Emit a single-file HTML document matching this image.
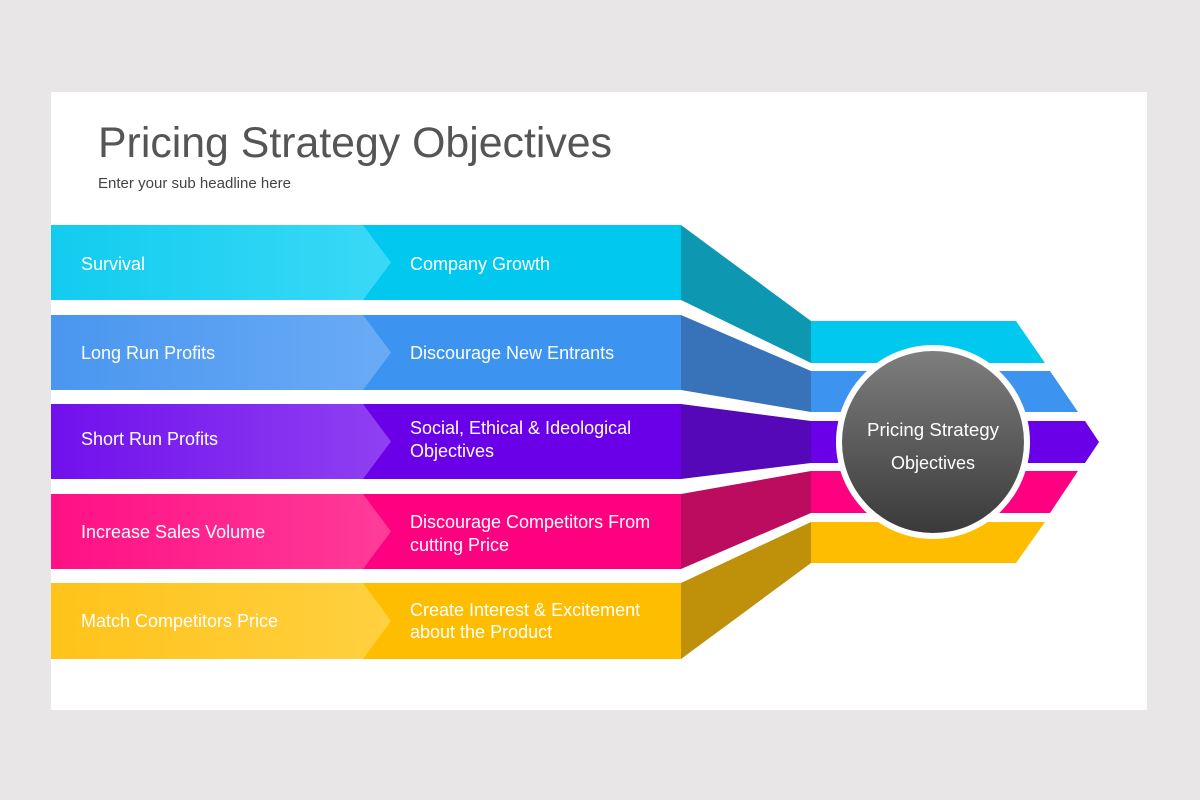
<!DOCTYPE html>
<html><head><meta charset="utf-8"><style>
html,body{margin:0;padding:0;background:#e8e6e7;}
svg{display:block;}
text{font-family:"Liberation Sans",sans-serif;}
</style></head><body>
<svg width="1200" height="800" viewBox="0 0 1200 800" xmlns="http://www.w3.org/2000/svg">
<defs>
<linearGradient id="g1" x1="0" x2="1"><stop offset="0" stop-color="#12ccef"/><stop offset="1" stop-color="#3ad9f6"/></linearGradient>
<linearGradient id="g2" x1="0" x2="1"><stop offset="0" stop-color="#4a96ef"/><stop offset="1" stop-color="#6aabf6"/></linearGradient>
<linearGradient id="g3" x1="0" x2="1"><stop offset="0" stop-color="#7010ec"/><stop offset="1" stop-color="#9040f2"/></linearGradient>
<linearGradient id="g4" x1="0" x2="1"><stop offset="0" stop-color="#ff1085"/><stop offset="1" stop-color="#ff3c98"/></linearGradient>
<linearGradient id="g5" x1="0" x2="1"><stop offset="0" stop-color="#ffc31a"/><stop offset="1" stop-color="#ffd040"/></linearGradient>
<linearGradient id="gc" x1="0" y1="0" x2="0" y2="1"><stop offset="0" stop-color="#7e7e7e"/><stop offset="1" stop-color="#3a3a3a"/></linearGradient>
</defs>
<rect x="51" y="92" width="1096" height="618" fill="#ffffff"/>
<text x="98" y="157" font-size="43" fill="#555" textLength="514" lengthAdjust="spacingAndGlyphs">Pricing Strategy Objectives</text>
<text x="98" y="188" font-size="15" fill="#444" textLength="193" lengthAdjust="spacingAndGlyphs">Enter your sub headline here</text>

<rect x="51" y="225" width="630" height="75" fill="#00c8ee"/>
<polygon points="51,225 363,225 391,262.5 363,300 51,300" fill="url(#g1)"/>
<polygon points="681,225 811,321 811,363 681,300" fill="#0e97b0"/>
<rect x="51" y="315" width="630" height="75" fill="#3d94f0"/>
<polygon points="51,315 363,315 391,352.5 363,390 51,390" fill="url(#g2)"/>
<polygon points="681,315 811,371 811,412 681,390" fill="#3872b8"/>
<rect x="51" y="404" width="630" height="75" fill="#6a00e8"/>
<polygon points="51,404 363,404 391,441.5 363,479 51,479" fill="url(#g3)"/>
<polygon points="681,404 811,421 811,463 681,479" fill="#5508b8"/>
<rect x="51" y="494" width="630" height="75" fill="#ff0080"/>
<polygon points="51,494 363,494 391,531.5 363,569 51,569" fill="url(#g4)"/>
<polygon points="681,494 811,471 811,513 681,569" fill="#bb0c60"/>
<rect x="51" y="583" width="630" height="76" fill="#ffbd00"/>
<polygon points="51,583 363,583 391,621 363,659 51,659" fill="url(#g5)"/>
<polygon points="681,583 811,522 811,563 681,659" fill="#bf900a"/>

<polygon points="811,321 1016,321 1045,363 811,363" fill="#00c8ee"/>
<polygon points="811,371 1050,371 1078,412 811,412" fill="#3d94f0"/>
<polygon points="811,421 1085,421 1099,442 1085,463 811,463" fill="#6a00e8"/>
<polygon points="811,471 1078,471 1050,513 811,513" fill="#ff0080"/>
<polygon points="811,522 1045,522 1016,563 811,563" fill="#ffbd00"/>

<circle cx="933" cy="442" r="97" fill="#ffffff"/>
<circle cx="933" cy="442" r="91" fill="url(#gc)"/>
<text x="933" y="436" font-size="18" fill="#fff" text-anchor="middle" textLength="132" lengthAdjust="spacingAndGlyphs">Pricing Strategy</text>
<text x="933" y="469" font-size="18" fill="#fff" text-anchor="middle">Objectives</text>

<g font-size="18" fill="#ffffff">
<text x="81" y="270">Survival</text>
<text x="410" y="270">Company Growth</text>
<text x="81" y="359">Long Run Profits</text>
<text x="410" y="359">Discourage New Entrants</text>
<text x="81" y="445">Short Run Profits</text>
<text x="410" y="434">Social, Ethical &amp; Ideological</text>
<text x="410" y="457">Objectives</text>
<text x="81" y="538">Increase Sales Volume</text>
<text x="410" y="528">Discourage Competitors From</text>
<text x="410" y="551">cutting Price</text>
<text x="81" y="627">Match Competitors Price</text>
<text x="410" y="616">Create Interest &amp; Excitement</text>
<text x="410" y="638">about the Product</text>
</g>
</svg>
</body></html>
